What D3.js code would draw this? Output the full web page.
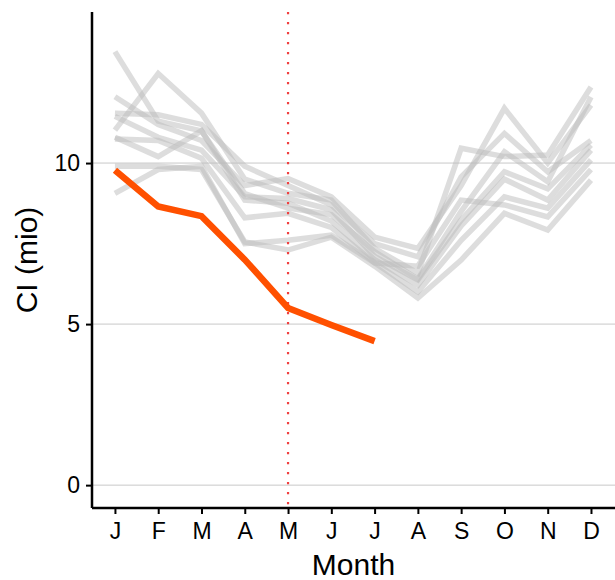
<!DOCTYPE html>
<html><head><meta charset="utf-8">
<script src="https://cdn.jsdelivr.net/npm/d3@7"></script>
<style>body{margin:0;background:#fff}svg{display:block}text{font-family:"Liberation Sans",Arial,sans-serif}</style>
</head><body><div id="chart"></div>
<script>
const months = ["J","F","M","A","M","J","J","A","S","O","N","D"];
const yTicks = [0,5,10];
const pastYears = [
  [13.46,11.3,11.0,9.05,8.6,8.4,7.25,6.4,8.5,10.35,9.42,12.05],
  [11.02,12.78,11.55,9.5,9.06,8.85,7.35,6.58,10.46,10.2,10.25,12.36],
  [12.06,11.2,10.7,9.3,9.52,8.95,7.7,7.35,9.3,11.7,10.0,11.8],
  [11.55,11.5,11.2,9.9,9.3,8.7,7.5,7.09,9.57,10.92,9.73,10.7],
  [11.45,10.8,10.4,8.95,8.9,8.55,7.1,6.37,8.23,9.73,9.2,10.56],
  [10.8,10.2,11.0,8.85,8.75,8.2,7.0,6.21,8.05,9.5,8.85,10.4],
  [10.75,10.7,10.15,8.3,8.44,8.0,6.9,6.0,7.6,8.95,8.6,10.1],
  [9.9,9.9,9.8,7.55,7.3,7.7,6.8,5.81,6.99,8.44,7.92,9.47],
  [9.06,9.8,9.9,7.5,7.6,7.76,6.9,6.8,8.85,8.7,8.33,9.8]
];
const currentYear = [9.78,8.65,8.35,7.0,5.5,4.97,4.47];
const markerMonth = 4;

const W=615,H=580, m={l:92,t:12,r:0,b:72};
const svg=d3.select("#chart").append("svg").attr("width",W).attr("height",H);
const x=d3.scaleLinear().domain([-0.53,11.555]).range([m.l,W-m.r]);
const y=d3.scaleLinear().domain([-0.71,14.69]).range([H-m.b,m.t]);

svg.append("g").selectAll("line").data(yTicks).join("line")
  .attr("x1",m.l).attr("x2",W-m.r).attr("y1",d=>y(d)).attr("y2",d=>y(d))
  .attr("stroke","#c8c8c8").attr("stroke-width",1);

const line=d3.line().x((d,i)=>x(i)).y(d=>y(d));
svg.append("g").selectAll("path").data(pastYears).join("path")
  .attr("d",line).attr("fill","none").attr("stroke","#bcbcbc").attr("stroke-opacity",0.5)
  .attr("stroke-width",5.5).attr("stroke-linejoin","miter");

svg.append("line").attr("x1",x(markerMonth)).attr("x2",x(markerMonth))
  .attr("y1",m.t).attr("y2",H-m.b).attr("stroke","#f04040").attr("stroke-width",2.2)
  .attr("stroke-dasharray","2.2,7.8");

svg.append("path").datum(currentYear).attr("d",line).attr("fill","none")
  .attr("stroke","#ff5000").attr("stroke-width",6.5).attr("stroke-linejoin","miter");

const xa=svg.append("g").attr("transform",`translate(0,${H-m.b})`)
  .call(d3.axisBottom(x).tickValues(d3.range(12)).tickFormat(i=>months[i]).tickSize(6).tickPadding(9));
const ya=svg.append("g").attr("transform",`translate(${m.l},0)`)
  .call(d3.axisLeft(y).tickValues(yTicks).tickSize(6).tickPadding(6));
[xa,ya].forEach(a=>{
  a.select(".domain").attr("stroke","#000").attr("stroke-width",2.5);
  a.selectAll(".tick line").attr("stroke","#000").attr("stroke-width",2);
  a.selectAll(".tick text").attr("fill","#000").style("font-size","23px");
});
xa.select(".domain").attr("d",`M${m.l},0H${W}`);
ya.select(".domain").attr("d",`M0,${m.t}V${H-m.b}`);

svg.append("text").attr("x",(m.l+W)/2).attr("y",575).attr("text-anchor","middle")
  .style("font-size","30px").text("Month");
svg.append("text").attr("transform",`translate(37,${(m.t+H-m.b)/2}) rotate(-90)`)
  .attr("text-anchor","middle").style("font-size","30px").text("CI (mio)");
</script></body></html>
